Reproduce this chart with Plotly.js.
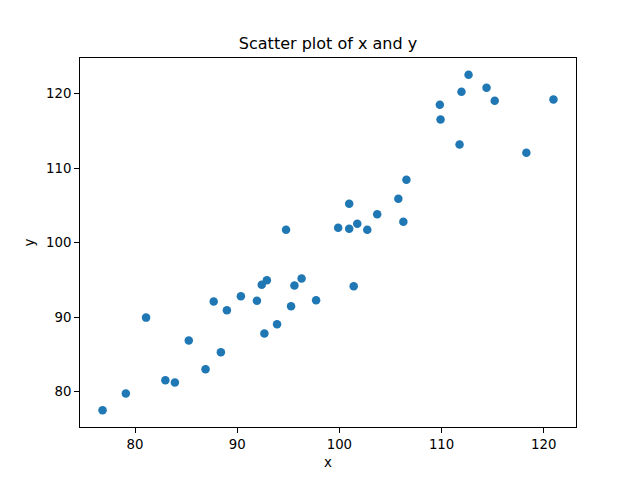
<!DOCTYPE html>
<html>
<head>
<meta charset="utf-8">
<script src="https://cdn.plot.ly/plotly-3.0.1.min.js"></script>
<style>html,body{margin:0;padding:0;background:#fff;}#chart{width:640px;height:480px;}</style>
</head>
<body>
<div id="chart"></div>
<script>
const xValues = [76.82, 79.1, 81.08, 82.97, 83.9, 85.26, 86.9, 87.7, 88.99, 90.36,
  91.93, 92.4, 92.9, 92.66, 93.9, 94.78, 95.27, 95.6, 96.3, 97.72,
  99.88, 100.96, 100.96, 101.4, 101.75, 102.73, 103.7, 105.77, 106.26, 106.56,
  109.83, 109.9, 111.76, 111.95, 112.64, 114.4, 115.2, 118.3, 120.95, 88.4];
const yValues = [77.49, 79.73, 89.93, 81.52, 81.21, 86.85, 82.99, 92.08, 90.91, 92.79,
  92.21, 94.36, 94.94, 87.79, 89.03, 101.74, 91.45, 94.23, 95.17, 92.26,
  102.01, 101.88, 105.23, 94.13, 102.55, 101.74, 103.8, 105.91, 102.82, 108.46,
  118.52, 116.55, 113.19, 120.27, 122.55, 120.81, 119.06, 112.08, 119.23, 85.28];
const xTicks = [80, 90, 100, 110, 120];
const yTicks = [80, 90, 100, 110, 120];

function padded(arr) {
  const lo = Math.min(...arr), hi = Math.max(...arr), m = (hi - lo) * 0.05;
  return [lo - m, hi + m];
}

const font = {family: 'DejaVu Sans', color: '#000', size: 13.3};
const axisBase = {
  showgrid: false, zeroline: false, showline: true, mirror: true,
  linecolor: '#000', linewidth: 1, ticks: 'outside', ticklen: 4.9, tickwidth: 1,
  tickcolor: '#000', tickfont: font, automargin: false
};

Plotly.newPlot('chart', [{
  type: 'scatter', mode: 'markers', x: xValues, y: yValues,
  marker: {color: '#1f77b4', size: 8.5, line: {width: 0}}
}], {
  width: 640, height: 480,
  margin: {l: 80, r: 64, t: 58, b: 53, pad: 0},
  paper_bgcolor: '#fff', plot_bgcolor: '#fff',
  showlegend: false,
  title: {text: 'Scatter plot of x and y', font: {family: 'DejaVu Sans', size: 16, color: '#000'},
    x: 0.5, xanchor: 'center', xref: 'paper', y: 1 - 43/480, yanchor: 'middle', yref: 'container'},
  xaxis: Object.assign({}, axisBase, {range: padded(xValues), tickvals: xTicks, ticktext: xTicks.map(String),
    title: {text: 'x', font: font, standoff: 6}}),
  yaxis: Object.assign({}, axisBase, {range: padded(yValues), tickvals: yTicks, ticktext: yTicks.map(String),
    title: {text: 'y', font: font, standoff: 8}})
}, {staticPlot: true, displayModeBar: false});
</script>
</body>
</html>
